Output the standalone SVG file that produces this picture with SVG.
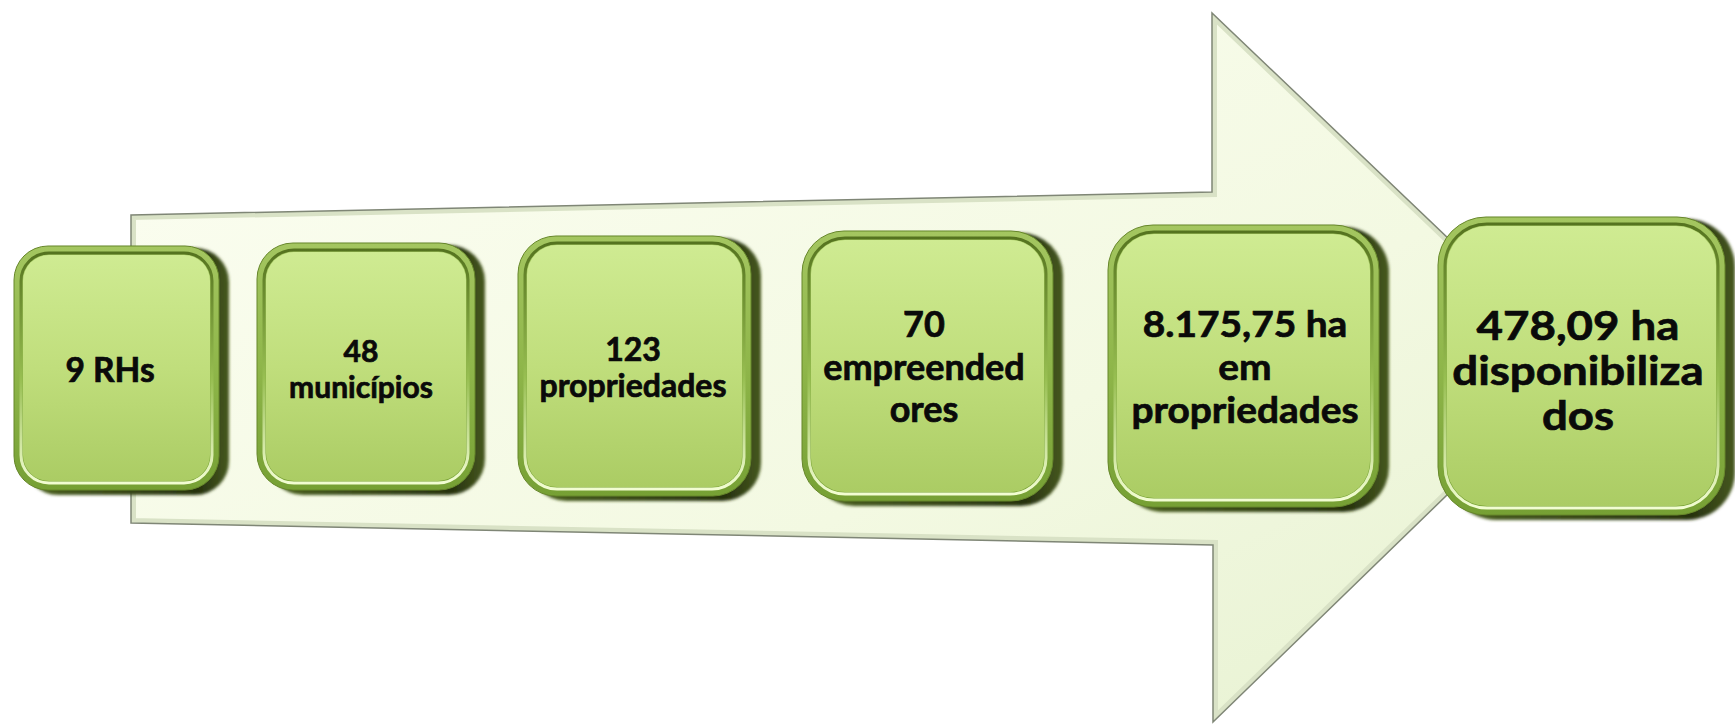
<svg xmlns="http://www.w3.org/2000/svg" width="1735" height="725" viewBox="0 0 1735 725">
<style>
  .ext{fill:url(#gExt);filter:url(#soft)}
  .rim{fill:url(#gRim);stroke:#67872b;stroke-width:1}
  .hl{fill:none;stroke:url(#gHl);stroke-width:3}
  .face{fill:url(#gFace)}
  .t{font-family:Lato,"Liberation Sans",sans-serif;font-weight:bold;fill:#0a0a0a;stroke:#0a0a0a;stroke-width:0.7;text-anchor:middle}
</style>
<defs>
  <linearGradient id="gArrow" x1="0" y1="0" x2="1" y2="1">
    <stop offset="0" stop-color="#fcfef2"/>
    <stop offset="0.6" stop-color="#f3f9e2"/>
    <stop offset="1" stop-color="#e6f1d0"/>
  </linearGradient>
  <linearGradient id="gExt" x1="0" y1="0" x2="1" y2="0">
    <stop offset="0" stop-color="#4d6322"/>
    <stop offset="0.85" stop-color="#27320f"/>
    <stop offset="1" stop-color="#46581f"/>
  </linearGradient>
  <linearGradient id="gRim" x1="0" y1="0" x2="0" y2="1">
    <stop offset="0" stop-color="#a4c660"/>
    <stop offset="0.5" stop-color="#8fb64a"/>
    <stop offset="1" stop-color="#76a034"/>
  </linearGradient>
  <linearGradient id="gHl" x1="0" y1="0" x2="0" y2="1">
    <stop offset="0" stop-color="#55731f"/>
    <stop offset="0.55" stop-color="#98bf52"/>
    <stop offset="1" stop-color="#f2fdd2"/>
  </linearGradient>
  <linearGradient id="gFace" x1="0" y1="0" x2="0" y2="1">
    <stop offset="0" stop-color="#cfeb92"/>
    <stop offset="0.5" stop-color="#c0de7c"/>
    <stop offset="1" stop-color="#abcc64"/>
  </linearGradient>
  <filter id="soft" x="-10%" y="-10%" width="120%" height="120%">
    <feGaussianBlur stdDeviation="1.5"/>
  </filter>
  <clipPath id="arrowClip">
    <polygon points="131,215 1212,192 1212,13 1581,365 1213,722 1213,545 131,523"/>
  </clipPath>
</defs>

<g id="connectors">
  <g id="arrow">
    <polygon points="131,215 1212,192 1212,13 1581,365 1213,722 1213,545 131,523" fill="url(#gArrow)"/>
    <polygon points="131,215 1212,192 1212,13 1581,365 1213,722 1213,545 131,523" fill="none" stroke="#d9e2c6" stroke-width="10" clip-path="url(#arrowClip)"/>
    <polygon points="131,215 1212,192 1212,13 1581,365 1213,722 1213,545 131,523" fill="none" stroke="#7f8676" stroke-width="1.5"/>
  </g>
</g>

<g id="node-1">
  <rect class="ext" x="24" y="248" width="205" height="247" rx="34"/>
  <rect class="rim" x="14" y="246" width="205" height="244" rx="34"/>
  <rect class="hl" x="21" y="253" width="191" height="230" rx="28"/>
  <rect class="face" x="23" y="255" width="187" height="226" rx="26"/>
  <text class="t" x="110" y="382" font-size="33.5">9 RHs</text>
</g>

<g id="node-2">
  <rect class="ext" x="267" y="245" width="218" height="250" rx="36"/>
  <rect class="rim" x="257" y="243" width="218" height="247" rx="36"/>
  <rect class="hl" x="264" y="250" width="204" height="233" rx="30"/>
  <rect class="face" x="266" y="252" width="200" height="229" rx="28"/>
  <text class="t" x="361" y="362" font-size="30">48</text>
  <text class="t" x="361" y="398" font-size="30">municípios</text>
</g>

<g id="node-3">
  <rect class="ext" x="528" y="238" width="233" height="263" rx="38"/>
  <rect class="rim" x="518" y="236" width="233" height="260" rx="38"/>
  <rect class="hl" x="525" y="243" width="219" height="246" rx="32"/>
  <rect class="face" x="527" y="245" width="215" height="242" rx="30"/>
  <text class="t" x="633" y="361" font-size="32">123</text>
  <text class="t" x="633" y="397" font-size="32">propriedades</text>
</g>

<g id="node-4">
  <rect class="ext" x="812" y="233" width="251" height="273" rx="42"/>
  <rect class="rim" x="802" y="231" width="251" height="270" rx="42"/>
  <rect class="hl" x="809" y="238" width="237" height="256" rx="36"/>
  <rect class="face" x="811" y="240" width="233" height="252" rx="34"/>
  <text class="t" x="924" y="337" font-size="36">70</text>
  <text class="t" x="924" y="380" font-size="36">empreended</text>
  <text class="t" x="924" y="422" font-size="36">ores</text>
</g>

<g id="node-5">
  <rect class="ext" x="1118" y="227" width="271" height="285" rx="45"/>
  <rect class="rim" x="1108" y="225" width="271" height="282" rx="45"/>
  <rect class="hl" x="1115" y="232" width="257" height="268" rx="39"/>
  <rect class="face" x="1117" y="234" width="253" height="264" rx="37"/>
  <text class="t" transform="translate(1245 0) scale(1.05 1)" x="0" y="337" font-size="37">8.175,75 ha</text>
  <text class="t" transform="translate(1245 0) scale(1.05 1)" x="0" y="380" font-size="37">em</text>
  <text class="t" transform="translate(1245 0) scale(1.05 1)" x="0" y="423" font-size="37">propriedades</text>
</g>

<g id="node-6">
  <rect class="ext" x="1448" y="219" width="287" height="301" rx="48"/>
  <rect class="rim" x="1438" y="217" width="287" height="298" rx="48"/>
  <rect class="hl" x="1445" y="224" width="273" height="284" rx="42"/>
  <rect class="face" x="1447" y="226" width="269" height="280" rx="40"/>
  <text class="t" transform="translate(1578 0) scale(1.14 1)" x="0" y="340" font-size="40">478,09 ha</text>
  <text class="t" transform="translate(1578 0) scale(1.14 1)" x="0" y="385" font-size="40">disponibiliza</text>
  <text class="t" transform="translate(1578 0) scale(1.14 1)" x="0" y="430" font-size="40">dos</text>
</g>
</svg>
